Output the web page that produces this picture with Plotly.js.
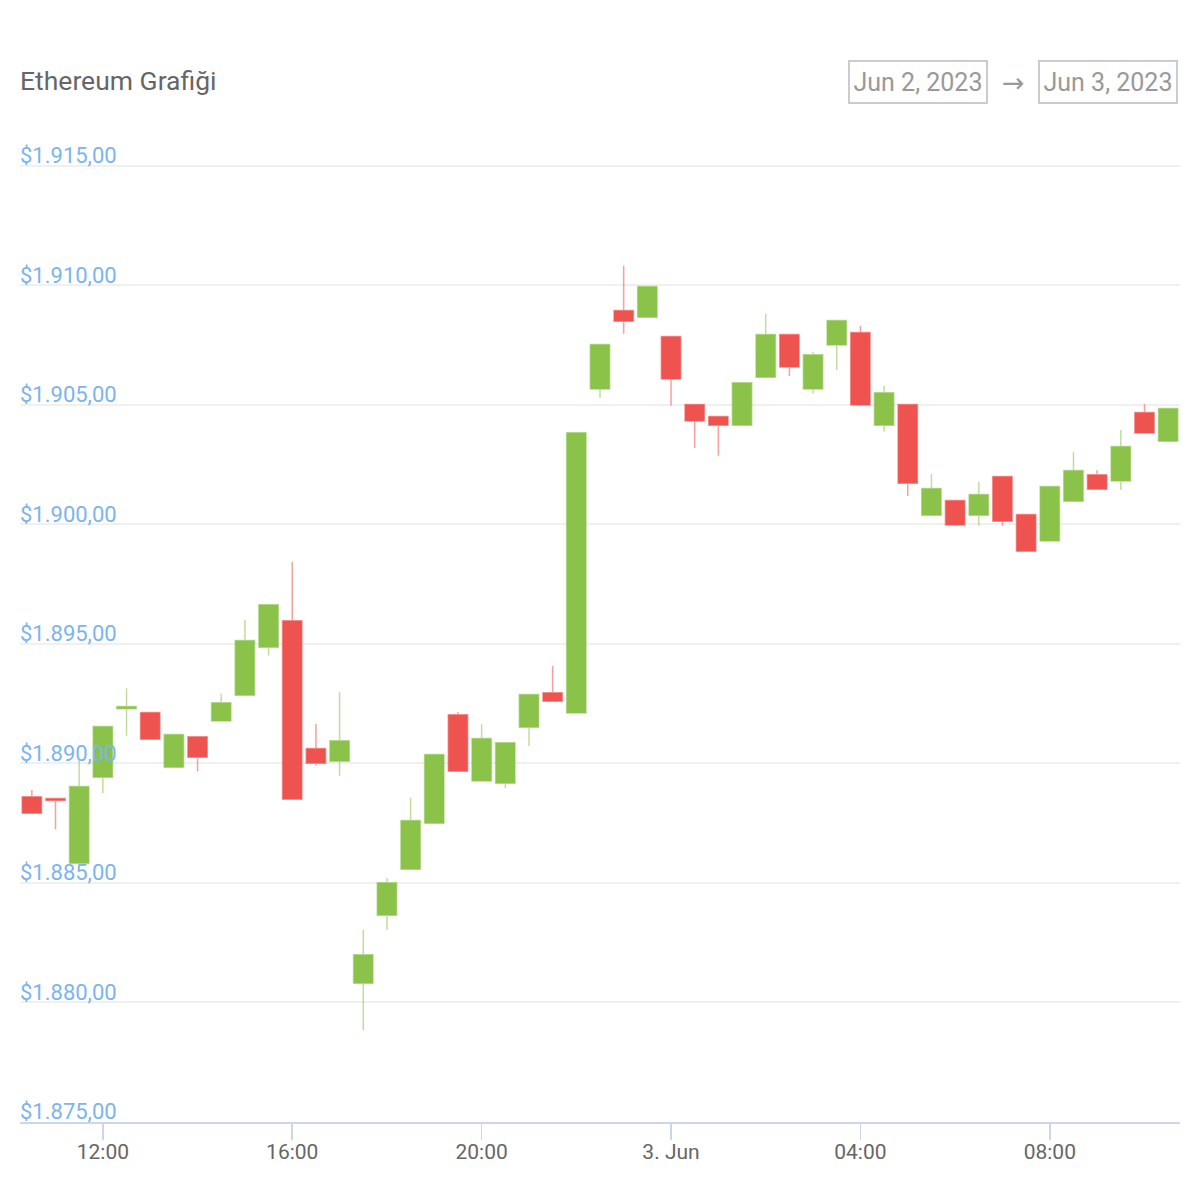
<!DOCTYPE html>
<html>
<head>
<meta charset="utf-8">
<script src="https://cdn.plot.ly/plotly-3.0.1.min.js"></script>
<style>html,body{margin:0;padding:0;background:#fff;}#chart{width:1200px;height:1200px;}</style>
</head>
<body>
<div id="chart"></div>
<script>
const times = [
  "2023-06-02 10:30","2023-06-02 11:00","2023-06-02 11:30","2023-06-02 12:00","2023-06-02 12:30",
  "2023-06-02 13:00","2023-06-02 13:30","2023-06-02 14:00","2023-06-02 14:30","2023-06-02 15:00",
  "2023-06-02 15:30","2023-06-02 16:00","2023-06-02 16:30","2023-06-02 17:00","2023-06-02 17:30",
  "2023-06-02 18:00","2023-06-02 18:30","2023-06-02 19:00","2023-06-02 19:30","2023-06-02 20:00",
  "2023-06-02 20:30","2023-06-02 21:00","2023-06-02 21:30","2023-06-02 22:00","2023-06-02 22:30",
  "2023-06-02 23:00","2023-06-02 23:30","2023-06-03 00:00","2023-06-03 00:30","2023-06-03 01:00",
  "2023-06-03 01:30","2023-06-03 02:00","2023-06-03 02:30","2023-06-03 03:00","2023-06-03 03:30",
  "2023-06-03 04:00","2023-06-03 04:30","2023-06-03 05:00","2023-06-03 05:30","2023-06-03 06:00",
  "2023-06-03 06:30","2023-06-03 07:00","2023-06-03 07:30","2023-06-03 08:00","2023-06-03 08:30",
  "2023-06-03 09:00","2023-06-03 09:30","2023-06-03 10:00","2023-06-03 10:30"
];
const openVals = [
  1888.61,1888.53,1885.82,1889.42,1892.29,1892.13,1889.84,1891.12,1891.77,1892.85,
  1894.86,1895.97,1890.62,1890.09,1880.80,1883.65,1885.57,1887.50,1892.04,1889.26,
  1889.17,1891.51,1892.96,1892.11,1905.66,1908.95,1908.67,1907.86,1905.01,1904.51,
  1904.15,1906.16,1907.94,1905.66,1907.50,1908.03,1904.15,1905.01,1900.38,1901.00,
  1900.38,1902.00,1900.41,1899.30,1900.97,1902.08,1901.81,1904.68,1903.48
];
const highVals = [
  1888.89,1888.53,1890.15,1891.54,1893.15,1892.13,1891.21,1891.12,1892.91,1896.00,
  1896.64,1898.43,1891.65,1892.99,1883.03,1885.21,1888.56,1890.37,1892.15,1891.65,
  1890.87,1892.88,1894.08,1903.83,1907.52,1910.82,1909.95,1907.86,1905.01,1904.51,
  1905.93,1908.81,1907.94,1907.22,1908.53,1908.31,1905.79,1905.01,1902.11,1901.00,
  1901.78,1902.00,1900.41,1901.58,1903.03,1902.28,1903.95,1905.04,1904.85
];
const lowVals = [
  1887.92,1887.25,1885.82,1888.75,1891.16,1891.01,1889.84,1889.66,1891.77,1892.85,
  1894.51,1888.50,1889.91,1889.48,1878.85,1883.03,1885.57,1887.50,1889.67,1889.26,
  1888.97,1890.73,1892.60,1892.11,1905.29,1907.97,1908.67,1904.96,1903.20,1902.87,
  1904.15,1906.16,1906.21,1905.46,1906.46,1904.99,1903.87,1901.19,1900.38,1899.97,
  1899.94,1899.94,1898.88,1899.30,1900.97,1901.47,1901.44,1903.82,1903.48
];
const closeVals = [
  1887.92,1888.45,1889.03,1891.54,1892.38,1891.01,1891.21,1890.26,1892.54,1895.14,
  1896.64,1888.50,1890.01,1890.95,1882.00,1885.01,1887.61,1890.37,1889.67,1891.04,
  1890.87,1892.88,1892.60,1903.83,1907.52,1908.50,1909.95,1906.08,1904.32,1904.15,
  1905.93,1907.94,1906.58,1907.10,1908.53,1904.99,1905.51,1901.72,1901.50,1899.97,
  1901.25,1900.13,1898.88,1901.58,1902.25,1901.47,1903.26,1903.82,1904.85
];
const xTickVals = ["2023-06-02 12:00","2023-06-02 16:00","2023-06-02 20:00","2023-06-03 00:00","2023-06-03 04:00","2023-06-03 08:00"];
const xTickText = ["12:00","16:00","20:00","3. Jun","04:00","08:00"];
const titleText = "Ethereum Grafiği";
const dateFrom = "Jun 2, 2023";
const dateTo = "Jun 3, 2023";

const FONT = "Roboto, 'Open Sans', sans-serif";
const Y_RANGE = [1875, 1917];

const trace = {
  type: "candlestick",
  x: times,
  open: openVals,
  high: highVals,
  low: lowVals,
  close: closeVals,
  whiskerwidth: 0,
  increasing: {line: {color: "rgba(139,195,74,0.55)", width: 1.5}, fillcolor: "#8BC34A"},
  decreasing: {line: {color: "rgba(239,83,80,0.55)", width: 1.5}, fillcolor: "#EF5350"},
  showlegend: false,
  hoverinfo: "x+y"
};

// invisible helper trace so that the label axis (yaxis2) is drawn
const labelTrace = {
  type: "scatter",
  x: [times[0]],
  y: [Y_RANGE[0]],
  yaxis: "y2",
  mode: "markers",
  marker: {opacity: 0},
  showlegend: false,
  hoverinfo: "skip"
};

const layout = {
  width: 1200,
  height: 1200,
  paper_bgcolor: "#ffffff",
  plot_bgcolor: "#ffffff",
  separators: ",.",
  font: {family: FONT, color: "#666666"},
  margin: {l: 20, r: 20, t: 118, b: 78, pad: 0},
  boxgap: 0.18,
  boxgroupgap: 0,
  title: {
    text: titleText,
    font: {family: FONT, size: 26.5, color: "#666666"},
    xref: "container", yref: "container",
    x: 20/1200, xanchor: "left",
    y: 1 - 81/1200, yanchor: "middle"
  },
  xaxis: {
    type: "date",
    range: ["2023-06-02 10:15", "2023-06-03 10:45"],
    tickmode: "array",
    tickvals: xTickVals,
    ticktext: xTickText,
    ticks: "outside",
    ticklen: 16,
    tickwidth: 1.5,
    tickcolor: "#ccd6eb",
    ticklabelstandoff: -6,
    showline: true,
    linecolor: "#ccd6eb",
    linewidth: 2,
    showgrid: false,
    zeroline: false,
    tickfont: {family: FONT, size: 21, color: "#666666"},
    rangeslider: {visible: false},
    fixedrange: true
  },
  yaxis: {
    range: Y_RANGE,
    tick0: 1875,
    dtick: 5,
    showticklabels: false,
    ticks: "",
    showgrid: true,
    gridcolor: "#f0f0f0",
    gridwidth: 2,
    zeroline: false,
    showline: false,
    fixedrange: true
  },
  yaxis2: {
    overlaying: "y",
    anchor: "free",
    position: 0,
    side: "right",
    range: Y_RANGE,
    tick0: 1875,
    dtick: 5,
    tickformat: "$,.2f",
    ticks: "",
    ticklabelposition: "outside top",
    ticklabelshift: 5,
    ticklabelstandoff: -1,
    tickfont: {family: FONT, size: 22, color: "#7cb5ec"},
    showgrid: false,
    zeroline: false,
    showline: false,
    fixedrange: true
  },
  annotations: [
    {
      text: dateFrom, xref: "paper", yref: "paper",
      x: (918 - 20)/1160, y: (1122 - 82)/1004, xanchor: "center", yanchor: "middle",
      showarrow: false, font: {family: FONT, size: 25, color: "#999999"},
      bordercolor: "#cccccc", borderwidth: 2, borderpad: 3, bgcolor: "#ffffff",
      width: 130, height: 34
    },
    {
      text: "→", xref: "paper", yref: "paper",
      x: (1013 - 20)/1160, y: (1122 - 82)/1004, xanchor: "center", yanchor: "middle",
      showarrow: false, font: {family: "'DejaVu Sans', sans-serif", size: 27, color: "#999999"}
    },
    {
      text: dateTo, xref: "paper", yref: "paper",
      x: (1108 - 20)/1160, y: (1122 - 82)/1004, xanchor: "center", yanchor: "middle",
      showarrow: false, font: {family: FONT, size: 25, color: "#999999"},
      bordercolor: "#cccccc", borderwidth: 2, borderpad: 3, bgcolor: "#ffffff",
      width: 130, height: 34
    }
  ]
};

Plotly.newPlot("chart", [trace, labelTrace], layout, {displayModeBar: false, staticPlot: true});
</script>
</body>
</html>
